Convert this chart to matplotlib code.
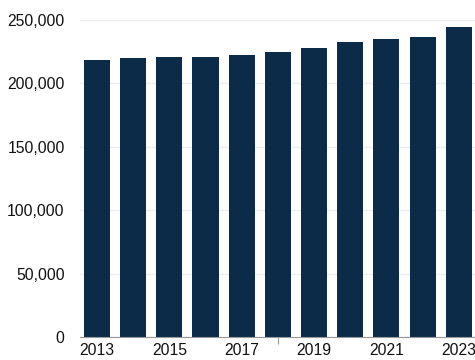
import numpy as np
import matplotlib.pyplot as plt
from matplotlib.ticker import FuncFormatter

years = [2013, 2014, 2015, 2016, 2017, 2018, 2019, 2020, 2021, 2022, 2023]
values = [218200, 220000, 220600, 220600, 222700, 225000, 227900, 232900, 234700, 236600, 244500]
label_years = [2013, 2015, 2017, 2019, 2021, 2023]

plt.rcParams['font.family'] = ['Liberation Sans', 'DejaVu Sans']

fig = plt.figure(figsize=(4.75, 3.6), dpi=100)
ax = fig.add_axes([80 / 475, (360 - 337) / 360, 395 / 475, 317 / 360])

ax.bar(years, values, width=0.72, color='#0b2b48', zorder=2)

ax.set_ylim(0, 250000)
ax.set_xlim(2012.53, 2023.45)
ax.set_yticks(np.arange(0, 250001, 50000))
ax.yaxis.set_major_formatter(FuncFormatter(lambda v, p: f'{int(v):,}'))
ax.set_xticks(label_years)
ax.set_xticks([2013, 2018, 2023], minor=True)
ax.tick_params(axis='x', which='major', length=0, pad=4, labelsize=11.3, colors='#111111')
ax.tick_params(axis='x', which='minor', length=5, color='#999999', width=0.8)
ax.tick_params(axis='y', length=0, pad=11, labelsize=11.3, colors='#111111')

ax.grid(axis='y', color='#eceef2', linewidth=1, zorder=0)
for s in ['top', 'right', 'left']:
    ax.spines[s].set_visible(False)
ax.spines['bottom'].set_color('#999999')
ax.spines['bottom'].set_linewidth(0.8)

fig.savefig('out.png', dpi=100)
